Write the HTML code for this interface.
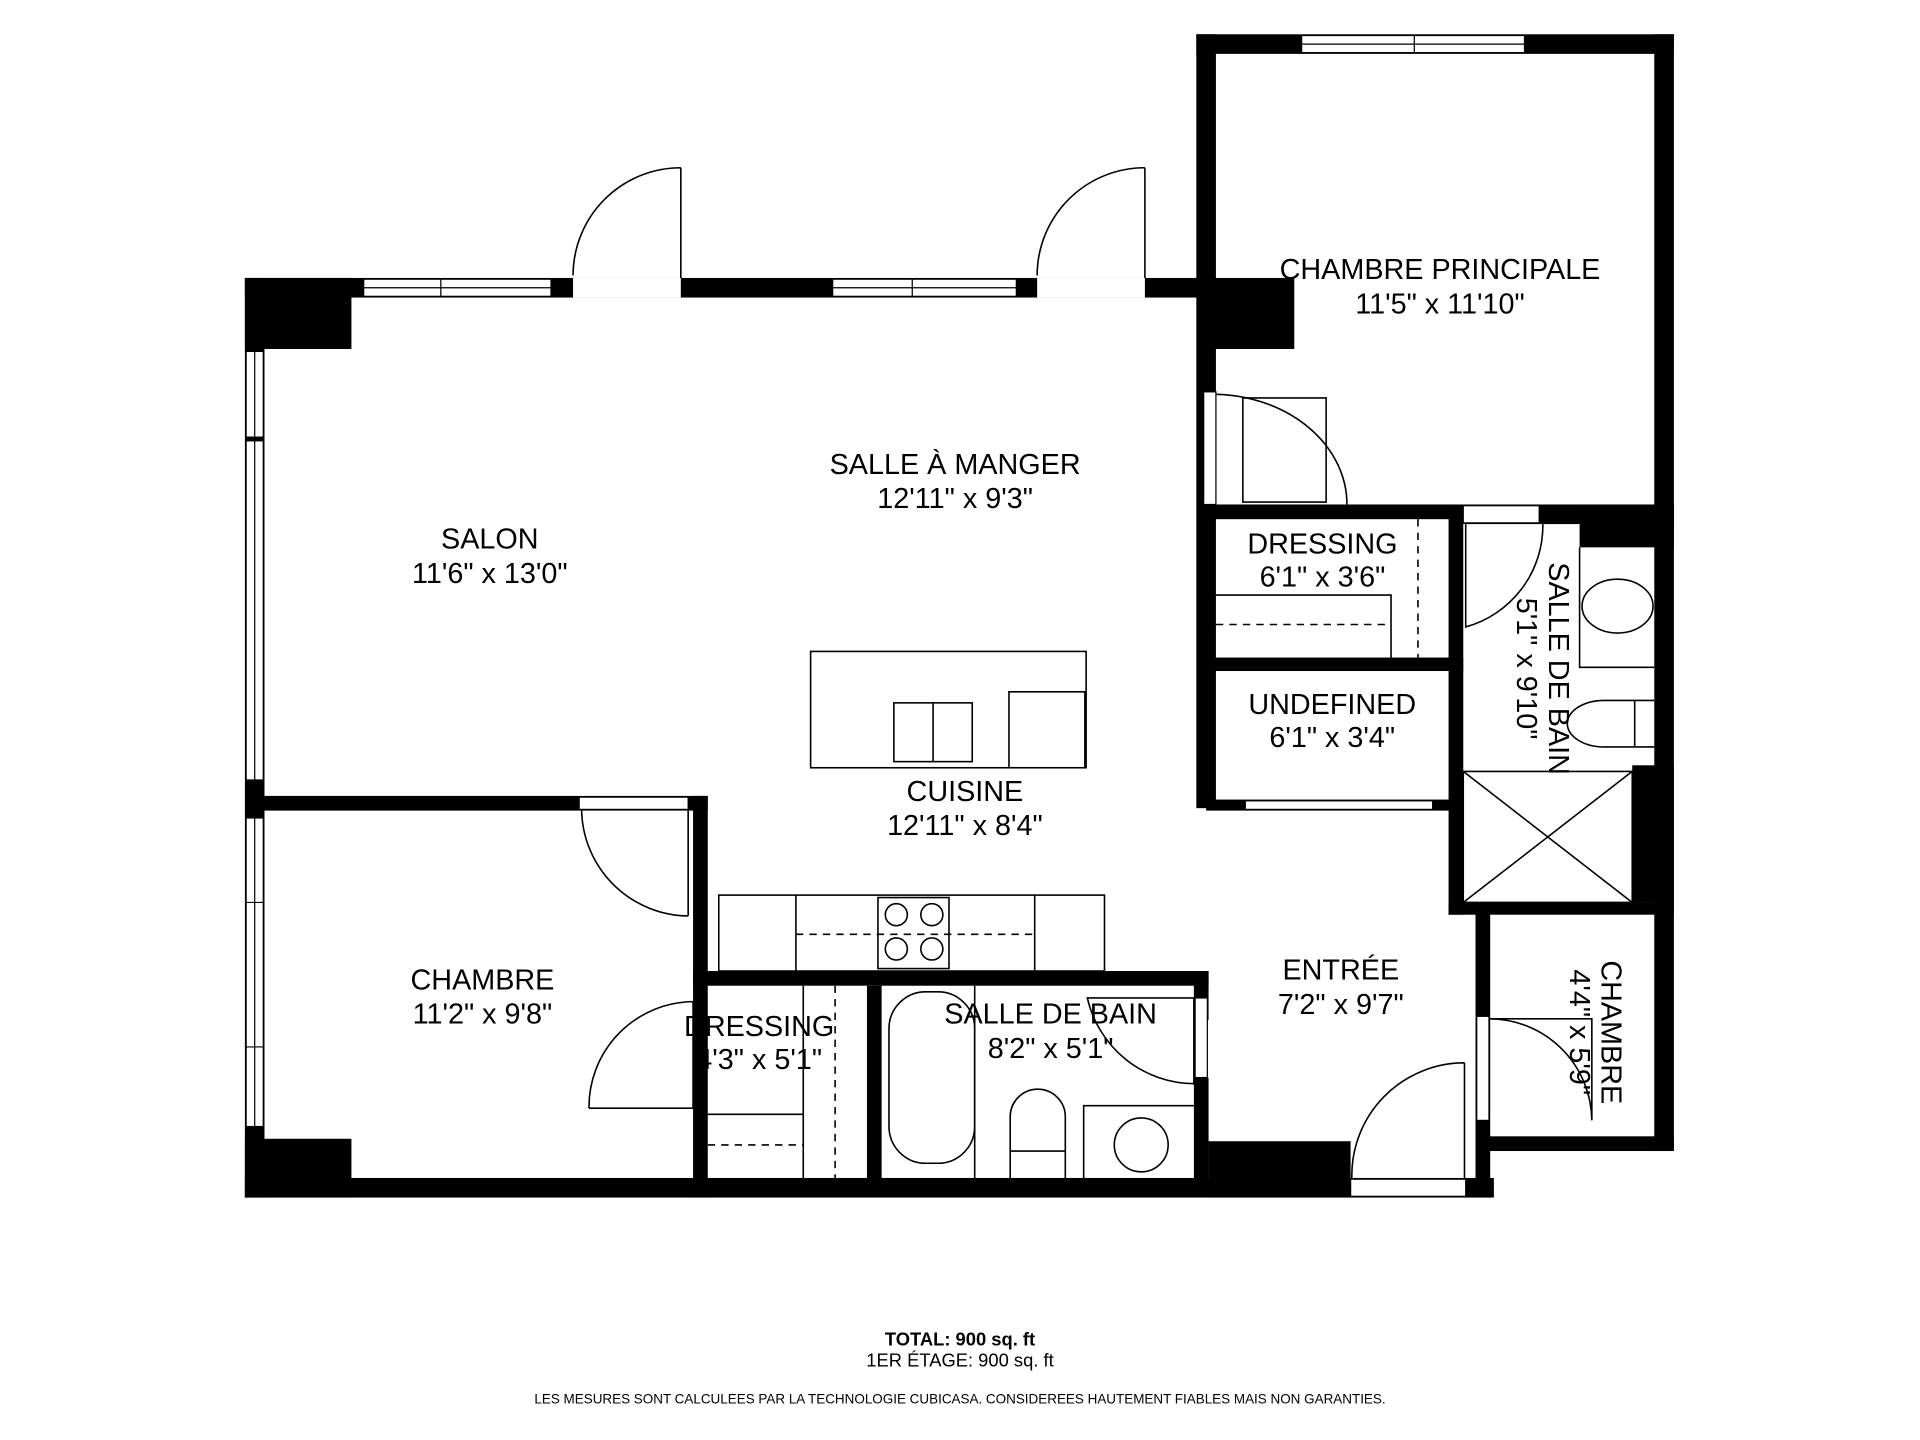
<!DOCTYPE html>
<html><head><meta charset="utf-8"><style>html,body{margin:0;padding:0;background:#fff}svg{display:block}</style></head>
<body>
<svg width="1920" height="1440" viewBox="0 0 1568 1176" xmlns="http://www.w3.org/2000/svg" font-family="Liberation Sans, Arial, sans-serif">
<rect width="1568" height="1176" fill="#fff"/>
<g fill="#000">
<rect x="200" y="227" width="790" height="16"/>
<rect x="200" y="227" width="87" height="58"/>
<rect x="200" y="227" width="16" height="751"/>
<rect x="200" y="962" width="1020" height="16"/>
<rect x="200" y="930" width="87" height="48"/>
<rect x="977" y="28" width="390" height="16"/>
<rect x="977" y="28" width="16" height="632"/>
<rect x="1351" y="28" width="16" height="912"/>
<rect x="985" y="227" width="72" height="58"/>
<rect x="985" y="412" width="210" height="12"/>
<rect x="985" y="537" width="210" height="11"/>
<rect x="985" y="653" width="210" height="9"/>
<rect x="1183" y="412" width="12" height="335"/>
<rect x="1195" y="412" width="172" height="16"/>
<rect x="1290" y="412" width="77" height="35"/>
<rect x="1333" y="625" width="34" height="112"/>
<rect x="1183" y="737" width="184" height="10"/>
<rect x="1205" y="745" width="12" height="233"/>
<rect x="1205" y="928" width="162" height="12"/>
<rect x="987" y="932" width="116" height="46"/>
<rect x="216" y="650" width="362" height="12"/>
<rect x="566" y="650" width="12" height="328"/>
<rect x="566" y="793" width="421" height="12"/>
<rect x="708" y="805" width="12" height="160"/>
<rect x="975" y="793" width="12" height="40"/>
<rect x="975" y="880" width="12" height="90"/>
</g>
<g fill="#fff" stroke="#000" stroke-width="1">
<rect x="297" y="228" width="153" height="14"/>
<rect x="680" y="228" width="150" height="14"/>
<rect x="468" y="227" width="88" height="16" stroke="none"/>
<rect x="847" y="227" width="88" height="16" stroke="none"/>
<rect x="1063" y="29" width="182" height="14"/>
<rect x="201" y="287" width="14" height="70"/>
<rect x="201" y="360" width="14" height="277"/>
<rect x="201" y="668" width="14" height="252"/>
<rect x="473" y="651" width="89" height="10"/>
<rect x="1103" y="963" width="94" height="14"/>
<rect x="983" y="320" width="10" height="92"/>
<rect x="1017" y="654" width="153" height="7"/>
<rect x="1206" y="830" width="10" height="85"/>
<rect x="976" y="815" width="10" height="65"/>
<rect x="1195" y="413" width="62" height="14"/>
</g>
<g fill="none" stroke="#000" stroke-width="1">
<path d="M297 235 H450 M680 235 H830 M1063 36 H1245 M208 287 V357 M208 360 V637 M208 668 V920 M360 228 V242 M745 228 V242 M1155 29 V43 M201 737 H215 M201 855 H215"/>
</g>
<g fill="none" stroke="#000" stroke-width="1.3">
<path d="M556 137 L556 227 M556 137 A88 88 0 0 0 468 225"/>
<path d="M935 137 L935 227 M935 137 A88 88 0 0 0 847 225"/>
<path d="M562 662 L562 748 M562 748 A88 88 0 0 1 475 662"/>
<path d="M566 818 L566 905 L481 905 M566 818 A86 86 0 0 0 481 905"/>
<path d="M1196 868 L1196 962 M1196 868 A92 92 0 0 0 1104 962"/>
<path d="M1216 832 L1300 832 L1300 915 M1216 832 A84 84 0 0 1 1300 915"/>
<path d="M1015 325 L1015 410 L1083 410 L1083 325 Z"/>
<path d="M993 322 A110 90 0 0 1 1100 412"/>
<path d="M1197 428 L1197 512 A86 86 0 0 0 1260 428"/>
<path d="M888 815 A90 90 0 0 0 975 885 L975 815 Z"/>
<path d="M993 486 L1136 486 L1136 537"/>
<path d="M1158 424 L1158 537" stroke-dasharray="6 5"/>
<path d="M993 510 L1136 510" stroke-dasharray="6 5"/>
<path d="M1290 447 L1290 545 L1351 545"/>
<ellipse cx="1321" cy="495" rx="29" ry="22"/>
<path d="M1351 572 L1310 572 A30 19 0 0 0 1310 610 L1351 610 M1335 572 L1335 610"/>
<path d="M1195 630 L1333 630 L1333 737 L1195 737 Z M1195 630 L1333 737 M1333 630 L1195 737"/>
<rect x="662" y="532" width="225" height="95"/>
<rect x="730" y="574" width="64" height="48"/>
<path d="M762 574 L762 622"/>
<path d="M824 565 L886 565 L886 627 L824 627 Z"/>
<rect x="587" y="731" width="315" height="62"/>
<path d="M650 731 L650 793 M845 731 L845 793"/>
<path d="M650 763 L845 763" stroke-dasharray="6 5"/>
<rect x="717" y="733" width="58" height="58"/>
<circle cx="732" cy="747" r="9"/><circle cx="761" cy="747" r="9"/>
<circle cx="732" cy="775" r="9"/><circle cx="761" cy="775" r="9"/>
<path d="M578 910 L656 910 M656 805 L656 962"/>
<path d="M578 935 L656 935 M682 805 L682 962" stroke-dasharray="6 5"/>
<rect x="726" y="810" width="70" height="140" rx="30"/>
<path d="M796 805 L796 962"/>
<path d="M825 962 L825 912 A22 22 0 0 1 870 912 L870 962 M825 940 L870 940"/>
<path d="M885 962 L885 903 L975 903"/>
<circle cx="932" cy="935" r="22"/>
</g>
<g font-size="23.5" text-anchor="middle" fill="#000">
<text x="1176" y="228">CHAMBRE PRINCIPALE</text><text x="1176" y="256">11'5" x 11'10"</text>
<text x="780" y="387">SALLE À MANGER</text><text x="780" y="415">12'11" x 9'3"</text>
<text x="400" y="448">SALON</text><text x="400" y="476">11'6" x 13'0"</text>
<text x="1080" y="452">DRESSING</text><text x="1080" y="479">6'1" x 3'6"</text>
<text x="1088" y="583">UNDEFINED</text><text x="1088" y="610">6'1" x 3'4"</text>
<text x="788" y="654">CUISINE</text><text x="788" y="682">12'11" x 8'4"</text>
<text x="394" y="808">CHAMBRE</text><text x="394" y="836">11'2" x 9'8"</text>
<text x="620" y="846">DRESSING</text><text x="620" y="873">4'3" x 5'1"</text>
<text x="858" y="836">SALLE DE BAIN</text><text x="858" y="864">8'2" x 5'1"</text>
<text x="1095" y="800">ENTRÉE</text><text x="1095" y="828">7'2" x 9'7"</text>
<text transform="translate(1265,546) rotate(90)">SALLE DE BAIN</text>
<text transform="translate(1239,546) rotate(90)">5'1" x 9'10"</text>
<text transform="translate(1308,843) rotate(90)">CHAMBRE</text>
<text transform="translate(1282,843) rotate(90)">4'4" x 5'9"</text>
</g>
<g text-anchor="middle" fill="#000">
<text x="784" y="1099" font-size="15" font-weight="bold">TOTAL: 900 sq. ft</text>
<text x="784" y="1116" font-size="15">1ER ÉTAGE: 900 sq. ft</text>
<text x="784" y="1146" font-size="11">LES MESURES SONT CALCULEES PAR LA TECHNOLOGIE CUBICASA. CONSIDEREES HAUTEMENT FIABLES MAIS NON GARANTIES.</text>
</g>
</svg>
</body></html>
